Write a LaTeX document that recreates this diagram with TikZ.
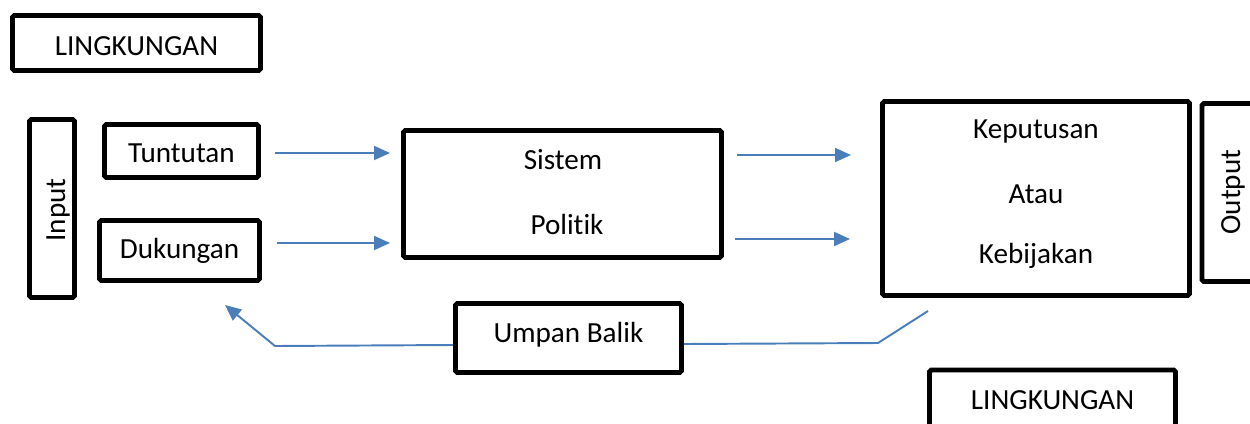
\documentclass[tikz,border=0pt]{standalone}
\usepackage{fontspec}
\setmainfont[Ligatures={NoCommon}]{Carlito}
\usetikzlibrary{arrows.meta}
\definecolor{arrowblue}{HTML}{4A7EBB}
\tikzset{
  box/.style={draw=black, line width=2.8pt, rounded corners=1pt, fill=white, inner sep=0pt},
  lbl/.style={font=\fontsize{16.6}{19}\selectfont, inner sep=0pt},
  conn/.style={draw=arrowblue, line width=1.1pt},
  arr/.style={conn, -{Triangle[length=0.32cm,width=0.28cm]}}
}
\begin{document}
\begin{tikzpicture}[x=0.02cm,y=-0.02cm]
\useasboundingbox (0,0) rectangle (1250,423);
\begin{scope}
\clip (0,0) rectangle (1250,423);
% boxes
\node[box, minimum width=248*0.02cm, minimum height=55*0.02cm] (lt) at (136.5,43) {};
\node[lbl] (ltt) at (136.5,46) {LINGKUNGAN};
\node[box, minimum width=45*0.02cm, minimum height=178*0.02cm] (in) at (52,208.5) {};
\node[lbl, rotate=90] (int) at (58,210) {Input};
\node[box, minimum width=154*0.02cm, minimum height=53*0.02cm] (tu) at (181.5,151) {};
\node[lbl] (tut) at (181.5,153) {Tuntutan};
\node[box, minimum width=160*0.02cm, minimum height=60*0.02cm] (du) at (179.5,250.5) {};
\node[lbl] (dut) at (179.5,251) {Dukungan};
\node[box, minimum width=318*0.02cm, minimum height=127*0.02cm] (sp) at (562.5,194) {};
\node[lbl] (spt1) at (563,160) {Sistem};
\node[lbl] (spt2) at (567,224) {Politik};
\node[box, minimum width=307*0.02cm, minimum height=194*0.02cm] (kp) at (1036,198.5) {};
\node[lbl] (kpt1) at (1036,131) {Keputusan};
\node[lbl] (kpt2) at (1036,194) {Atau};
\node[lbl] (kpt3) at (1036,256) {Kebijakan};
\node[box, minimum width=60*0.02cm, minimum height=178*0.02cm] (out) at (1232,192.5) {};
\node[lbl, rotate=90] (outt) at (1233,192) {Output};
\node[box, minimum width=226*0.02cm, minimum height=69*0.02cm] (ub) at (568.5,338) {};
\node[lbl] (ubt) at (568.5,335) {Umpan Balik};
\node[box, minimum width=246*0.02cm, minimum height=70*0.02cm] (lb) at (1052.5,405) {};
\node[lbl] (lbt) at (1052.5,400) {LINGKUNGAN};
% connector ends
\coordinate (a1s) at (275,153); \coordinate (a1e) at (390,153);
\coordinate (a2s) at (277,243); \coordinate (a2e) at (390,243);
\coordinate (a3s) at (737,155); \coordinate (a3e) at (851,155);
\coordinate (a4s) at (735,239); \coordinate (a4e) at (850,239);
\coordinate (fbs) at (928,311); \coordinate (fbm) at (878,343);
\coordinate (fbk) at (275,346); \coordinate (fbe) at (225,305);
\draw[arr] (a1s) -- (a1e);
\draw[arr] (a2s) -- (a2e);
\draw[arr] (a3s) -- (a3e);
\draw[arr] (a4s) -- (a4e);
\draw[conn] (fbs) -- (fbm) -- (ub.east |- 0,344);
\draw[arr] (ub.west |- 0,345) -- (fbk) -- (fbe);
\end{scope}
\end{tikzpicture}
\end{document}
